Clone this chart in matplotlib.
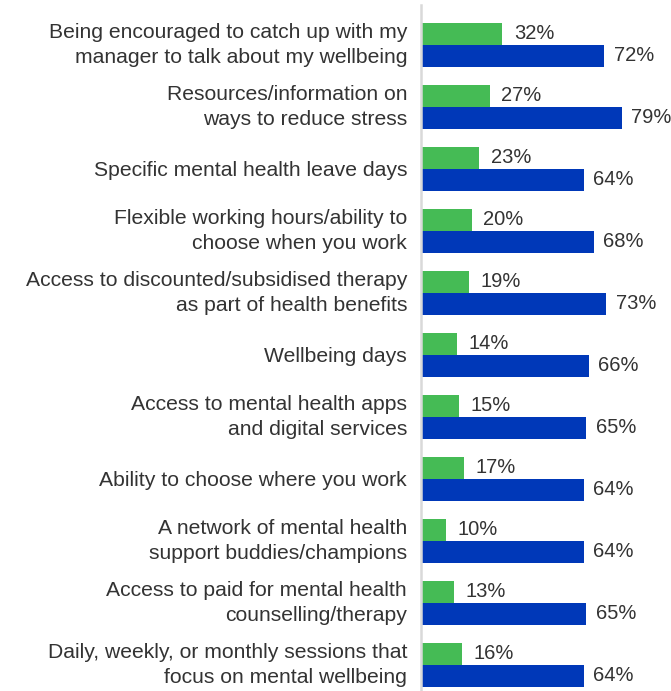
import matplotlib.pyplot as plt
import numpy as np

# ── DATA ──────────────────────────────────────────────────────────────────────
categories = [
    "Being encouraged to catch up with my\nmanager to talk about my wellbeing",
    "Resources/information on\nways to reduce stress",
    "Specific mental health leave days",
    "Flexible working hours/ability to\nchoose when you work",
    "Access to discounted/subsidised therapy\nas part of health benefits",
    "Wellbeing days",
    "Access to mental health apps\nand digital services",
    "Ability to choose where you work",
    "A network of mental health\nsupport buddies/champions",
    "Access to paid for mental health\ncounselling/therapy",
    "Daily, weekly, or monthly sessions that\nfocus on mental wellbeing",
]
green_vals = [32, 27, 23, 20, 19, 14, 15, 17, 10, 13, 16]
blue_vals = [72, 79, 64, 68, 73, 66, 65, 64, 64, 65, 64]

GREEN = "#45BB55"
BLUE = "#0038B8"
TEXT = "#333333"

plt.rcParams["font.family"] = ["Liberation Sans", "DejaVu Sans"]

fig = plt.figure(figsize=(6.71, 6.91), dpi=100)
ax = fig.add_axes([421 / 671, 0, 250 / 671, 686 / 691])

y = np.arange(len(categories))
h = 0.355
ax.barh(y - h / 2, green_vals, height=h, color=GREEN)
ax.barh(y + h / 2, blue_vals, height=h, color=BLUE)

for yi, g, b in zip(y, green_vals, blue_vals):
    ax.text(g + 4.5, yi - h / 2, f"{g}%", va="center", ha="left",
            fontsize=14.5, color=TEXT)
    ax.text(b + 3.8, yi + h / 2, f"{b}%", va="center", ha="left",
            fontsize=14.5, color=TEXT)

ax.set_xlim(0, 98.4)
ax.set_ylim(len(categories) - 1 + 0.42, -0.645)
ax.set_yticks(y)
ax.set_yticklabels(categories, fontsize=15.2, color=TEXT, linespacing=1.42)
# two-line labels centred on the box, single lines keep baseline centring
for lbl in ax.get_yticklabels():
    if "\n" in lbl.get_text():
        lbl.set_verticalalignment("center")
ax.tick_params(axis="y", length=0, pad=10)
ax.set_xticks([])
for s in ["top", "right", "bottom"]:
    ax.spines[s].set_visible(False)
ax.spines["left"].set_color("#d9d9d9")
ax.spines["left"].set_linewidth(1.8)

fig.savefig("out.png", dpi=100)
